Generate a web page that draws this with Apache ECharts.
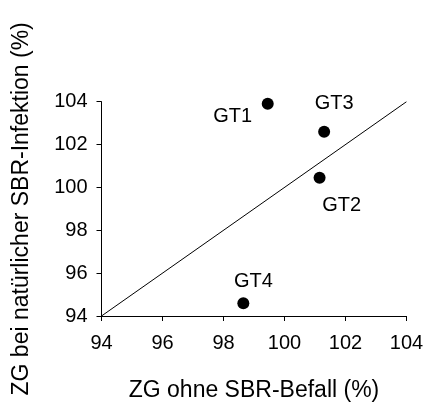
<!DOCTYPE html>
<html>
<head>
<meta charset="utf-8">
<script src="https://cdn.jsdelivr.net/npm/echarts@6/dist/echarts.min.js"></script>
<style>
html,body{margin:0;padding:0;background:#fff;}
#c{width:436px;height:403px;}
</style>
</head>
<body>
<div id="c"></div>
<script>
var names = ['GT1', 'GT2', 'GT3', 'GT4'];
var xValues = [99.45, 101.15, 101.3, 98.65];
var yValues = [103.9, 100.45, 102.6, 94.6];
var labelOffsets = [[-35, 13], [22, 28], [10, -28], [10, -22]];
var refLineX = [94, 104];
var refLineY = [94, 104];
var xTitle = 'ZG ohne SBR-Befall (%)';
var yTitle = 'ZG bei natürlicher SBR-Infektion (%)';

var font = 'Liberation Sans, Arial, sans-serif';
var chart = echarts.init(document.getElementById('c'), null, {renderer: 'canvas'});

var pts = names.map(function (n, i) {
  return {
    value: [xValues[i], yValues[i]],
    name: n,
    label: {offset: labelOffsets[i]}
  };
});

var axisCommon = {
  min: 94, max: 104, interval: 2,
  axisLine: {show: true, lineStyle: {color: '#000', width: 1}},
  axisTick: {show: true, inside: false, length: 5, lineStyle: {color: '#000'}},
  splitLine: {show: false},
  nameLocation: 'middle',
  nameTextStyle: {color: '#000', fontSize: 23, fontFamily: font}
};

chart.setOption({
  animation: false,
  backgroundColor: '#fff',
  grid: {left: 101.5, right: 29.5, top: 101.7, bottom: 87, containLabel: false, outerBoundsMode: 'none'},
  xAxis: Object.assign({}, axisCommon, {
    type: 'value',
    name: xTitle,
    nameGap: 63,
    axisLabel: {color: '#000', fontSize: 20, fontFamily: font, margin: 17}
  }),
  yAxis: Object.assign({}, axisCommon, {
    type: 'value',
    name: yTitle,
    nameGap: 68,
    axisLabel: {color: '#000', fontSize: 20, fontFamily: font, margin: 14}
  }),
  series: [
    {
      type: 'line',
      data: refLineX.map(function (x, i) { return [x, refLineY[i]]; }),
      showSymbol: false,
      symbol: 'none',
      lineStyle: {color: '#000', width: 1},
      silent: true
    },
    {
      type: 'scatter',
      data: pts,
      symbol: 'circle',
      symbolSize: 12,
      itemStyle: {color: '#000', opacity: 1},
      label: {
        show: true,
        position: 'inside',
        formatter: '{b}',
        color: '#000',
        fontSize: 20,
        fontFamily: font,
        align: 'center',
        verticalAlign: 'middle'
      }
    }
  ]
});
</script>
</body>
</html>
